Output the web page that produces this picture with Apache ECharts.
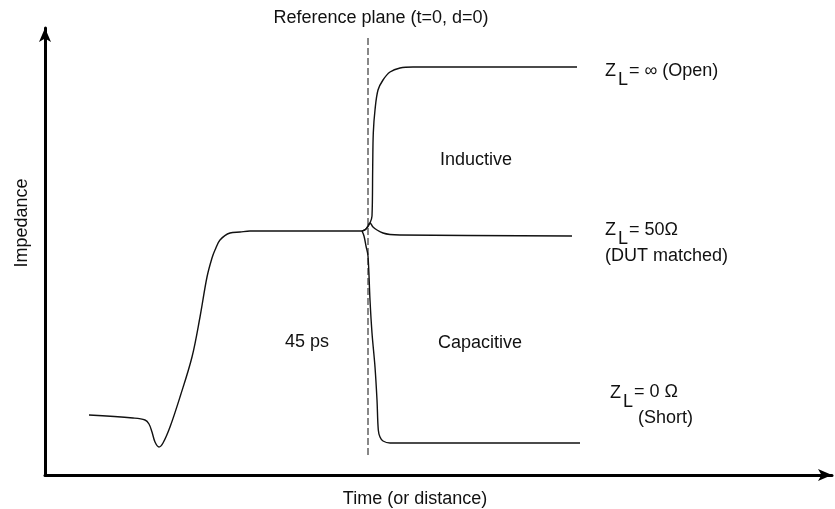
<!DOCTYPE html>
<html>
<head>
<meta charset="utf-8">
<title>TDR impedance vs time</title>
<script src="https://cdn.jsdelivr.net/npm/echarts@6/dist/echarts.min.js"></script>
<style>
  html, body { margin: 0; padding: 0; background: #fff; }
  #main { width: 835px; height: 509px; }
</style>
</head>
<body>
<div id="main"></div>
<script>
/* 数据：x = 时间（任意单位），y = 阻抗（任意单位） */
// 公共段：入射阶跃直到参考面
const incidentX = [44, 88, 100, 104, 107, 110, 114, 118, 125, 135, 147, 155, 162, 167, 170, 175, 185, 195, 205, 250, 315, 317]
const incidentY = [60, 57, 55, 51, 43, 33, 28, 32, 48, 78, 118, 158, 198, 217, 225, 235, 242, 243, 244, 244, 244, 244]

// Z_L = ∞ (Open)
const openX = [317, 321, 325, 327, 327.7, 328.3, 330, 333, 338, 345, 355, 368, 532]
const openY = [244, 246, 252, 259, 308, 342, 365, 385, 395, 403, 407, 408, 408]

// Z_L = 50Ω (DUT matched)
const matchedX = [317, 321, 325, 328, 332, 338, 345, 355, 527]
const matchedY = [244, 246, 252, 248, 245, 242, 240.5, 240, 239]

// Z_L = 0Ω (Short)
const shortX = [317, 319, 321, 323, 325, 327, 330, 332, 333.3, 335, 338, 345, 355, 535]
const shortY = [244, 239, 229, 219, 175, 142, 108, 75, 45, 38, 34, 32, 32, 32]

// 参考面 (t=0, d=0)
const refPlaneX = [323, 323]
const refPlaneY = [20, 437]

const toPairs = (xs, ys) => xs.map((x, i) => [x, ys[i]])

const chart = echarts.init(document.getElementById('main'))

const font = 'Liberation Sans, Arial, sans-serif'
const textStyle = (text, x, y, align) => ({
  type: 'text',
  x: x,
  y: y,
  style: {
    text: text,
    fill: '#111',
    font: '18px ' + font,
    textAlign: align || 'left',
    textVerticalAlign: 'middle'
  }
})

const curveStyle = { color: '#111', width: 1.4 }
const curve = (name, xs, ys) => ({
  name: name,
  type: 'line',
  data: toPairs(xs, ys),
  smooth: 0.35,
  showSymbol: false,
  lineStyle: curveStyle
})

chart.setOption({
  animation: false,
  /* 直角坐标系，与原图坐标轴位置对齐 */
  grid: { left: 45, right: 3, top: 28, bottom: 34 },
  xAxis: {
    type: 'value',
    min: 0,
    max: 787,
    axisLine: {
      show: true,
      symbol: ['none', 'arrow'],
      symbolSize: [9, 14],
      lineStyle: { color: '#000', width: 3 }
    },
    axisTick: { show: false },
    axisLabel: { show: false },
    splitLine: { show: false }
  },
  yAxis: {
    type: 'value',
    min: 0,
    max: 447,
    axisLine: {
      show: true,
      symbol: ['none', 'arrow'],
      symbolSize: [9, 14],
      lineStyle: { color: '#000', width: 3 }
    },
    axisTick: { show: false },
    axisLabel: { show: false },
    splitLine: { show: false }
  },
  series: [
    curve('Incident', incidentX, incidentY),
    curve('Open', openX, openY),
    curve('Matched', matchedX, matchedY),
    curve('Short', shortX, shortY),
    {
      name: 'Reference plane',
      type: 'line',
      data: toPairs(refPlaneX, refPlaneY),
      showSymbol: false,
      lineStyle: { color: '#111', width: 1, type: [7, 3] }
    }
  ],
  /* 文字标注 */
  graphic: [
    textStyle('Reference plane (t=0, d=0)', 381, 18, 'center'),
    textStyle('Inductive', 440, 160),
    textStyle('Capacitive', 438, 343),
    textStyle('45 ps', 285, 342),
    // Z_L = ∞ (Open)
    textStyle('Z', 605, 71),
    textStyle('L', 618, 80),
    textStyle('= ∞ (Open)', 629, 71),
    // Z_L = 50Ω
    textStyle('Z', 605, 230),
    textStyle('L', 618, 239),
    textStyle('= 50Ω', 629, 230),
    textStyle('(DUT matched)', 605, 256),
    // Z_L = 0Ω
    textStyle('Z', 610, 393),
    textStyle('L', 623, 402),
    textStyle('= 0 Ω', 634, 392),
    textStyle('(Short)', 638, 418),
    // 坐标轴名称
    textStyle('Time (or distance)', 415, 499, 'center'),
    {
      type: 'text',
      x: 22,
      y: 223,
      rotation: Math.PI / 2,
      style: {
        text: 'Impedance',
        fill: '#111',
        font: '18px ' + font,
        textAlign: 'center',
        textVerticalAlign: 'middle'
      }
    }
  ]
})
</script>
</body>
</html>
